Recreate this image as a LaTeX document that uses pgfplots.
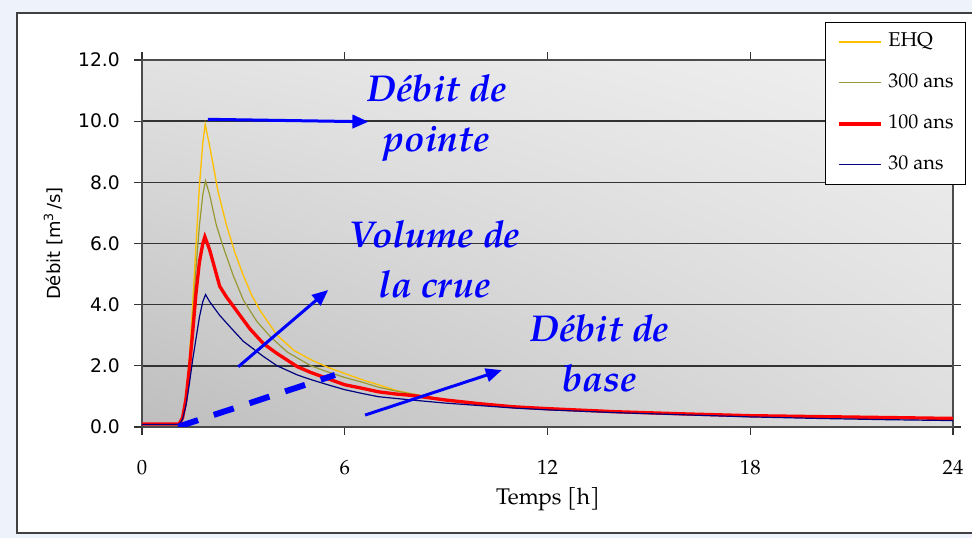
\documentclass[border=0pt]{standalone}
\usepackage{fontspec}
\setmainfont{TeX Gyre Pagella}
\newfontfamily\dejavu{DejaVu Sans}
\usepackage{pgfplots}
\pgfplotsset{compat=1.18}
\usetikzlibrary{shadings,arrows.meta}

\definecolor{bgblue}{RGB}{238,242,250}
\definecolor{ehq}{RGB}{255,192,0}
\definecolor{olivec}{RGB}{153,153,51}
\definecolor{navyc}{RGB}{0,0,128}
\definecolor{bgLL}{RGB}{190,190,190}
\definecolor{bgUL}{RGB}{226,226,226}
\definecolor{bgLR}{RGB}{222,222,222}
\definecolor{bgUR}{RGB}{240,240,240}

\begin{document}
\begin{tikzpicture}
\useasboundingbox (0,0) rectangle (729pt,403.5pt);
\fill[bgblue] (0,0) rectangle (729pt,403.5pt);
\draw[line width=1.5pt, draw=black!75, fill=white] (12.75pt,3.75pt) rectangle (745pt,393.75pt);
\begin{axis}[
  at={(106.5pt,83.25pt)}, anchor=south west,
  scale only axis, width=608.25pt, height=275.25pt,
  xmin=0, xmax=24, ymin=0, ymax=12,
  xtick={0,6,...,24}, ytick={0,2,...,12},
  axis background/.style={lower left=bgLL, upper left=bgUL, lower right=bgLR, upper right=bgUR},
  ymajorgrids, major grid style={black!80, line width=1.2pt},
  axis line style={black!70, line width=0.9pt},
  tick align=outside, major tick length=6pt,
  tick style={black!80, line width=0.9pt},
  /pgf/number format/assume math mode=true,
  yticklabel style={font=\dejavu\fontsize{14}{16}\selectfont, inner sep=0pt, xshift=-10.5pt,
    /pgf/number format/.cd, fixed, fixed zerofill, precision=1},
  xticklabel style={font=\fontsize{15.5}{18}\selectfont, inner sep=0pt, yshift=-18.75pt},
  xlabel={Temps [h]},
  ylabel={Débit [m\textsuperscript{3}\,/s]},
  x label style={font=\fontsize{17}{20}\selectfont, at={(axis description cs:0.5006,-0.196)}, anchor=center},
  y label style={font=\dejavu\fontsize{13.5}{16}\selectfont, at={(axis description cs:-0.1097,0.5)}, anchor=center},
  legend style={at={(1.016,1.1035)}, anchor=north east, draw=black, line width=0.75pt, fill=white,
    inner xsep=9pt, inner ysep=8pt, font=\fontsize{15}{18}\selectfont, row sep=17.75pt, column sep=4.5pt,
    nodes={inner sep=0pt, text height=10pt, text depth=3pt, anchor=west}},
  legend cell align=left,
  legend image code/.code={\draw[#1] (0pt,0pt) -- (31.5pt,0pt);},
]
\addplot[ehq, line width=1pt] coordinates {
(0,0.1)(1.1,0.1)(1.2,0.3)(1.3,1.0)(1.4,2.2)(1.5,4.0)(1.6,6.0)(1.7,7.9)(1.8,9.3)(1.87,9.9)
(2.0,9.2)(2.25,7.7)(2.5,6.6)(2.75,5.7)(3.0,4.95)(3.25,4.3)(3.5,3.8)(4.0,3.0)(4.5,2.5)(5.0,2.2)
(5.5,1.95)(6.0,1.75)(6.5,1.55)(7.0,1.38)(7.5,1.2)(8.0,1.08)(9.0,0.88)(10,0.75)(11,0.66)(12,0.6)
(14,0.5)(16,0.43)(18,0.37)(20,0.33)(22,0.3)(24,0.27)};
\addlegendentry{EHQ}
\addplot[olivec, line width=0.9pt] coordinates {
(0,0.1)(1.1,0.1)(1.2,0.3)(1.3,1.0)(1.4,2.1)(1.5,3.6)(1.6,5.2)(1.7,6.6)(1.8,7.6)(1.88,8.05)
(2.0,7.6)(2.2,6.6)(2.4,5.9)(2.7,4.95)(3.0,4.15)(3.4,3.45)(3.8,2.95)(4.3,2.45)(5.0,2.0)(5.5,1.8)
(6.0,1.62)(6.5,1.47)(7.0,1.3)(7.5,1.18)(8,1.08)(9,0.88)(10,0.75)(11,0.66)(12,0.6)
(14,0.5)(16,0.43)(18,0.37)(20,0.33)(22,0.3)(24,0.27)};
\addlegendentry{300 ans}
\addplot[red, line width=2.5pt] coordinates {
(0,0.1)(1.1,0.1)(1.2,0.3)(1.3,0.9)(1.4,1.9)(1.5,3.1)(1.6,4.4)(1.7,5.4)(1.8,6.0)(1.86,6.22)
(2.0,5.8)(2.3,4.6)(2.5,4.25)(2.8,3.8)(3.2,3.2)(3.6,2.72)(4.0,2.4)(4.6,1.97)(5.0,1.78)(5.6,1.54)
(6.0,1.38)(6.5,1.27)(7.0,1.15)(7.5,1.08)(8,1.03)(9,0.88)(10,0.76)(11,0.66)(12,0.6)(13,0.55)
(14,0.5)(16,0.43)(18,0.37)(20,0.34)(22,0.31)(24,0.28)};
\addlegendentry{100 ans}
\addplot[navyc, line width=0.9pt] coordinates {
(0,0.08)(1.1,0.08)(1.2,0.25)(1.3,0.7)(1.4,1.4)(1.5,2.2)(1.6,2.9)(1.7,3.6)(1.8,4.1)(1.88,4.33)
(2.0,4.1)(2.3,3.65)(2.6,3.28)(3.0,2.8)(3.6,2.3)(4.0,2.0)(4.6,1.7)(5.0,1.55)(5.5,1.38)(6.0,1.22)
(6.5,1.1)(7.0,0.99)(8,0.88)(9,0.78)(10,0.7)(11,0.62)(12,0.56)(14,0.47)(16,0.4)(18,0.33)
(20,0.28)(22,0.24)(24,0.21)};
\addlegendentry{30 ans}

\draw[blue, line width=2.25pt, -{Triangle[length=12pt,width=10pt]}] (axis cs:1.95,10.06) -- (axis cs:6.70,9.98);
\draw[blue, line width=2.25pt, -{Triangle[length=12pt,width=10pt]}] (axis cs:2.85,1.97) -- (axis cs:5.51,4.48);
\draw[blue, line width=2.25pt, -{Triangle[length=12pt,width=10pt]}] (axis cs:6.60,0.39) -- (axis cs:10.65,1.86);
\draw[blue, line width=4.5pt, dash pattern=on 15.75pt off 12.4pt] (axis cs:1.07,0.01) -- (axis cs:5.71,1.70);

\node[text=blue, font=\fontsize{28}{37.5}\selectfont\bfseries\itshape, align=center] at (axis cs:8.73,10.1) {Débit de\\pointe};
\node[text=blue, font=\fontsize{28}{37.5}\selectfont\bfseries\itshape, align=center] at (axis cs:8.67,5.49) {Volume de\\la crue};
\node[text=blue, font=\fontsize{28}{37.5}\selectfont\bfseries\itshape, align=center] at (axis cs:13.55,2.42) {Débit de\\base};
\end{axis}
\end{tikzpicture}
\end{document}
